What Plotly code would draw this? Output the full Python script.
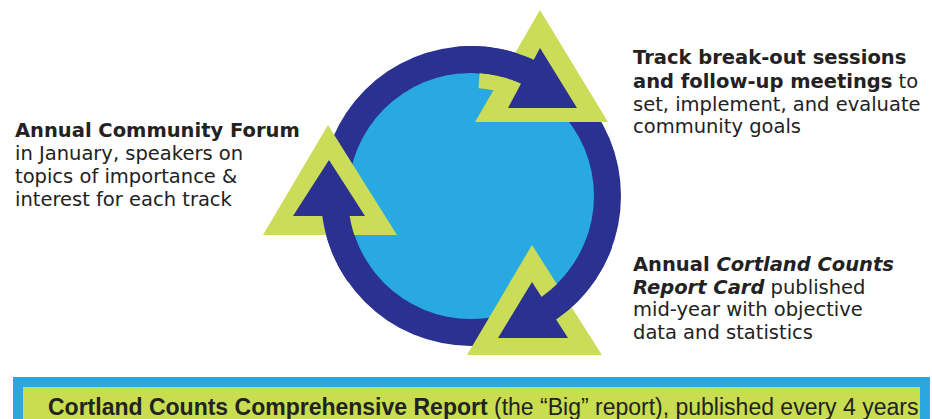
import numpy as np
import plotly.graph_objects as go

W, H = 932, 419

# ---- text content ----
left_lines = ["<b>Annual Community Forum</b>",
              "in January, speakers on",
              "topics of importance &",
              "interest for each track"]
right_top_lines = ["<b>Track break-out sessions</b>",
                   "<b>and follow-up meetings</b> to",
                   "set, implement, and evaluate",
                   "community goals"]
right_bottom_lines = ["<b>Annual <i>Cortland Counts</i></b>",
                      "<b><i>Report Card</i></b> published",
                      "mid-year with objective",
                      "data and statistics"]
bottom_text = "<b>Cortland Counts Comprehensive Report</b> (the \u201cBig\u201d report), published every 4 years"

# ---- colours ----
NAVY = "#2b3190"
LIGHT = "#29a9e1"
GREEN = "#cadc58"
BOX_BLUE = "#2ba6de"
BOX_GREEN = "#c8dd50"
TXT = "#222222"

# ---- geometry (pixel-like data coordinates, y downward) ----
CX, CY = 471, 196
R_OUT, R_IN = 150, 123

tri_outer = {
    "top": [(540, 10), (475, 122), (608, 122)],
    "left": [(328, 125), (263, 235), (397, 235)],
    "bottom": [(532, 245), (467, 355), (602, 355)],
}
tri_inner = {
    "top": [(540, 48), (508, 108), (577, 108)],
    "left": [(329, 160), (293, 216), (365, 216)],
    "bottom": [(532, 282), (498, 338), (568, 338)],
}
shaft_angles = {"top": (95, 62), "left": (215, 182), "bottom": (-20, -57)}


def poly_path(pts):
    return "M " + " L ".join(f"{x},{y}" for x, y in pts) + " Z"


def arc_band(r1, r2, a1, a2, n=40):
    t = np.radians(np.linspace(a1, a2, n))
    outer = [(CX + r2 * np.cos(a), CY - r2 * np.sin(a)) for a in t]
    inner = [(CX + r1 * np.cos(a), CY - r1 * np.sin(a)) for a in t[::-1]]
    return poly_path([(round(x, 2), round(y, 2)) for x, y in outer + inner])


shapes = []
# ring
shapes.append(dict(type="circle", xref="x", yref="y", x0=CX - R_OUT, x1=CX + R_OUT,
                   y0=CY - R_OUT, y1=CY + R_OUT, fillcolor=NAVY, line=dict(width=0)))
shapes.append(dict(type="circle", xref="x", yref="y", x0=CX - R_IN, x1=CX + R_IN,
                   y0=CY - R_IN, y1=CY + R_IN, fillcolor=LIGHT, line=dict(width=0)))
# green edge along the top shaft
shapes.append(dict(type="path", xref="x", yref="y", path=arc_band(108, R_IN + 1, 86, 62),
                   fillcolor=GREEN, line=dict(width=0)))
# green triangles
for k in tri_outer:
    shapes.append(dict(type="path", xref="x", yref="y", path=poly_path(tri_outer[k]),
                       fillcolor=GREEN, line=dict(width=0)))
# dark shafts into arrowheads
for k, (a1, a2) in shaft_angles.items():
    shapes.append(dict(type="path", xref="x", yref="y", path=arc_band(R_IN, R_OUT, a1, a2),
                       fillcolor=NAVY, line=dict(width=0)))
# dark arrowheads
for k in tri_inner:
    shapes.append(dict(type="path", xref="x", yref="y", path=poly_path(tri_inner[k]),
                       fillcolor=NAVY, line=dict(width=0)))
# bottom banner
shapes.append(dict(type="rect", xref="x", yref="y", x0=13, x1=930, y0=377, y1=440,
                   fillcolor=BOX_BLUE, line=dict(width=0)))
shapes.append(dict(type="rect", xref="x", yref="y", x0=23, x1=920, y0=387, y1=440,
                   fillcolor=BOX_GREEN, line=dict(width=0)))

annotations = []
side_font = dict(family="DejaVu Sans", size=19.5, color=TXT)


def add_block(lines, x0, y_centers):
    for line, y in zip(lines, y_centers):
        annotations.append(dict(x=x0, y=y, xref="x", yref="y", text=line, showarrow=False,
                                xanchor="left", yanchor="middle", font=side_font))


add_block(left_lines, 13, [130, 153, 176, 199])
add_block(right_top_lines, 631, [57, 81, 104, 126])
add_block(right_bottom_lines, 631, [264, 287, 309, 332])

annotations.append(dict(x=483, y=407, xref="x", yref="y", text=bottom_text, showarrow=False,
                        xanchor="center", yanchor="middle",
                        font=dict(family="Liberation Sans, Arial", size=23, color=TXT)))

fig = go.Figure()
fig.update_layout(
    width=W, height=H,
    margin=dict(l=0, r=0, t=0, b=0),
    paper_bgcolor="white", plot_bgcolor="white",
    xaxis=dict(range=[0, W], visible=False, fixedrange=True),
    yaxis=dict(range=[H, 0], visible=False, fixedrange=True),
    shapes=shapes, annotations=annotations, showlegend=False,
)
fig.write_html(
    "out.html",
    config={"displayModeBar": False},
    post_script="document.documentElement.style.margin='0';document.documentElement.style.overflow='hidden';"
                "document.body.style.margin='0';document.body.style.padding='0';document.body.style.overflow='hidden';",
)
